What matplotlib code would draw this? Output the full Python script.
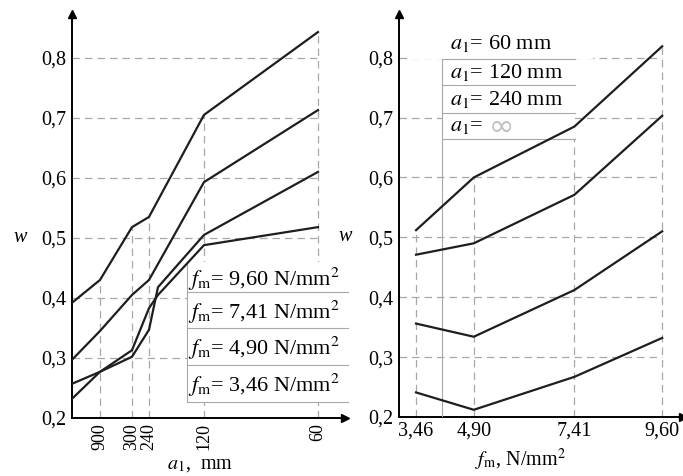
import numpy as np
import matplotlib
matplotlib.use('Agg')
import matplotlib.pyplot as plt

plt.rcParams['font.family'] = ['Liberation Serif', 'DejaVu Serif']
plt.rcParams['mathtext.fontset'] = 'stix'

# left panel: w over a1 (ordered positions, a1 = inf at the axis)
a1_labels = ['900', '300', '240', '120', '60']
a1_pos = [0, 28, 60, 77, 132, 246]
a1_pos_low = [0, 28, 60, 77, 86, 132, 246]
w_960 = [0.392, 0.430, 0.518, 0.535, 0.705, 0.843]
w_741 = [0.297, 0.345, 0.405, 0.430, 0.593, 0.713]
w_490 = [0.257, 0.277, 0.302, 0.347, 0.418, 0.505, 0.610]
w_346 = [0.232, 0.277, 0.313, 0.383, 0.405, 0.488, 0.518]
fm_names = ['9,60', '7,41', '4,90', '3,46']

# right panel: w over fm
fm = [3.46, 4.90, 7.41, 9.60]
fm_labels = ['3,46', '4,90', '7,41', '9,60']
w_60 = [0.512, 0.600, 0.685, 0.819]
w_120 = [0.471, 0.490, 0.571, 0.703]
w_240 = [0.356, 0.334, 0.412, 0.510]
w_inf = [0.241, 0.212, 0.267, 0.332]
a1_names = ['60 mm', '120 mm', '240 mm']

w_ticks = [0.2, 0.3, 0.4, 0.5, 0.6, 0.7, 0.8]
w_tick_labels = ['0,2', '0,3', '0,4', '0,5', '0,6', '0,7', '0,8']

LC = '#1e1e1e'
GC = '#a8a8a8'
FS = 14.5
LFS = 16

fig = plt.figure(figsize=(6.83, 4.76), dpi=100)
axL = fig.add_axes([0.1054, 0.1218, 0.3997, 0.8487])
axR = fig.add_axes([0.5842, 0.1240, 0.4158, 0.8466])

for ax in (axL, axR):
    ax.set_ylim(0.2, 0.873)
    ax.spines['top'].set_visible(False)
    ax.spines['right'].set_visible(False)
    ax.spines['left'].set_linewidth(1.4)
    ax.spines['bottom'].set_linewidth(1.4)
    ax.set_yticks(w_ticks)
    ax.set_yticklabels(w_tick_labels, fontsize=FS)
    ax.tick_params(axis='y', length=0, pad=4)
    ax.tick_params(axis='x', direction='in', length=4, width=0.6, colors=GC, labelcolor='black')
    ax.patch.set_alpha(0)
    # arrow heads
    ax.plot(0, 1, marker='^', ms=6, color='black', transform=ax.transAxes, clip_on=False)
    ax.plot(1, 0, marker='>', ms=6, color='black', transform=ax.transAxes, clip_on=False)
    ax.text(-0.19, 0.447, 'w', transform=ax.transAxes, fontsize=FS, style='italic',
            ha='center', va='center')

# ---- left panel
axL.set_xlim(0, 273)
axL.set_xticks(a1_pos[1:])
axL.set_xticklabels(a1_labels, rotation=90, fontsize=13)
axL.hlines(w_ticks[1:], 0, a1_pos[-1], colors=GC, linestyles=(0, (6, 4)), lw=0.9, zorder=1)
axL.vlines(a1_pos[1:], 0.2, w_960[1:], colors=GC, linestyles=(0, (6, 4)), lw=0.9, zorder=1)

axL.plot(a1_pos, w_960, color=LC, lw=1.6, zorder=4)
axL.plot(a1_pos, w_741, color=LC, lw=1.6, zorder=4)
axL.plot(a1_pos_low, w_490, color=LC, lw=1.6, zorder=4)
axL.plot(a1_pos_low, w_346, color=LC, lw=1.6, zorder=4)

# left legend table
x0, x1 = 0.421, 1.01
top, seps = 0.386, [0.312, 0.223, 0.131, 0.040]
axL.add_patch(plt.Rectangle((x0, seps[-1]), x1 - x0, top - seps[-1], transform=axL.transAxes,
                            facecolor='white', edgecolor='none', zorder=2, clip_on=False))
axL.plot([x0, x0], [seps[-1], top], color=GC, lw=0.8, transform=axL.transAxes, clip_on=False, zorder=3)
for s in seps:
    axL.plot([x0, x1], [s, s], color=GC, lw=0.8, transform=axL.transAxes, clip_on=False, zorder=3)
prev = top
for name, s in zip(fm_names, seps):
    axL.text(x0 + 0.005, (prev + s) / 2 - 0.005, r'$f_{\mathrm{m}}$= ' + name + r' N/mm$^2$',
             transform=axL.transAxes, fontsize=LFS, ha='left', va='center', zorder=5)
    prev = s
axL.text(0.469, -0.116, r'$a_1$,  mm', transform=axL.transAxes, fontsize=FS, ha='center', va='center')

# ---- right panel
axR.set_xlim(3.035, 10.12)
axR.set_xticks(fm)
axR.set_xticklabels(fm_labels, fontsize=FS)
axR.hlines(w_ticks[1:], 3.035, fm[-1], colors=GC, linestyles=(0, (6, 4)), lw=0.9, zorder=1)
axR.vlines(fm, 0.2, w_60, colors=GC, linestyles=(0, (6, 4)), lw=0.9, zorder=1)

for w in (w_60, w_120, w_240, w_inf):
    axR.plot(fm, w, color=LC, lw=1.6, zorder=4)

# right legend table
x0, x1 = 0.151, 0.62
rows = [0.888, 0.824, 0.754, 0.69]
axR.add_patch(plt.Rectangle((0.046, rows[0]), 0.637, 0.08, transform=axR.transAxes,
                            facecolor='white', edgecolor='none', zorder=2))
axR.add_patch(plt.Rectangle((x0, rows[-1]), x1 - x0, rows[0] - rows[-1], transform=axR.transAxes,
                            facecolor='white', edgecolor='none', zorder=2))
axR.plot([x0, x0], [0, rows[0]], color=GC, lw=0.8, transform=axR.transAxes, zorder=3)
for r in rows:
    axR.plot([x0, x1], [r, r], color=GC, lw=0.8, transform=axR.transAxes, zorder=3)
centers = [0.928, 0.856, 0.787]
for name, c in zip(a1_names, centers):
    axR.text(x0 + 0.03, c, r'$a_1$= ' + name, transform=axR.transAxes, fontsize=LFS,
             ha='left', va='center', zorder=5)
axR.text(x0 + 0.03, 0.722, r'$a_1$=', transform=axR.transAxes, fontsize=LFS,
         ha='left', va='center', zorder=5)
axR.text(x0 + 0.165, 0.718, '∞', transform=axR.transAxes, fontsize=LFS + 6, color='#c0c0c0',
         ha='left', va='center', zorder=5, family=['DejaVu Sans'])
axR.text(0.426, -0.107, r'$f_{\mathrm{m}}$, N/mm$^2$', transform=axR.transAxes, fontsize=FS,
         ha='center', va='center')

fig.savefig('out.png', dpi=100)
